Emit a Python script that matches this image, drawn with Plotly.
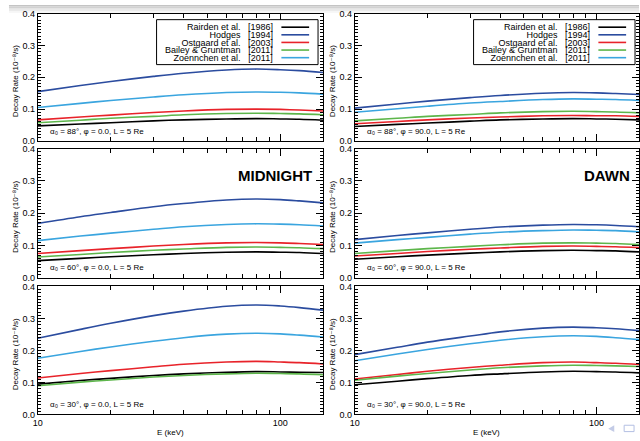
import plotly.graph_objects as go

# Energy grid (keV)
energy = [10, 15, 20, 30, 40, 60, 80, 100, 120, 150]

# Decay rates (1e-8 / s) per panel, per model
# Panel A: alpha0 = 88 deg, phi = 0.0
a_rairden = [0.047, 0.053, 0.057, 0.063, 0.066, 0.069, 0.070, 0.069, 0.068, 0.065]
a_hodges = [0.155, 0.174, 0.187, 0.203, 0.213, 0.223, 0.226, 0.224, 0.221, 0.215]
a_ostgaard = [0.066, 0.075, 0.081, 0.089, 0.094, 0.099, 0.100, 0.099, 0.097, 0.094]
a_bailey = [0.057, 0.065, 0.071, 0.077, 0.082, 0.086, 0.087, 0.086, 0.085, 0.082]
a_zoennchen = [0.105, 0.118, 0.127, 0.138, 0.145, 0.152, 0.154, 0.153, 0.151, 0.147]

# Panel B: alpha0 = 88 deg, phi = 90.0
b_rairden = [0.045, 0.052, 0.056, 0.062, 0.066, 0.069, 0.070, 0.069, 0.068, 0.066]
b_hodges = [0.103, 0.116, 0.125, 0.136, 0.143, 0.150, 0.152, 0.151, 0.149, 0.146]
b_ostgaard = [0.054, 0.061, 0.066, 0.072, 0.075, 0.079, 0.080, 0.079, 0.079, 0.077]
b_bailey = [0.063, 0.071, 0.077, 0.083, 0.088, 0.092, 0.093, 0.092, 0.091, 0.088]
b_zoennchen = [0.090, 0.101, 0.109, 0.119, 0.124, 0.130, 0.132, 0.131, 0.130, 0.127]

# Panel C: alpha0 = 60 deg, phi = 0.0
c_rairden = [0.053, 0.060, 0.065, 0.071, 0.075, 0.079, 0.080, 0.079, 0.078, 0.075]
c_hodges = [0.168, 0.189, 0.202, 0.220, 0.230, 0.241, 0.244, 0.242, 0.238, 0.232]
c_ostgaard = [0.075, 0.084, 0.090, 0.098, 0.103, 0.108, 0.109, 0.108, 0.106, 0.103]
c_bailey = [0.064, 0.072, 0.078, 0.085, 0.089, 0.094, 0.095, 0.094, 0.093, 0.090]
c_zoennchen = [0.115, 0.129, 0.138, 0.150, 0.158, 0.165, 0.167, 0.166, 0.164, 0.160]

# Panel D: alpha0 = 60 deg, phi = 90.0
d_rairden = [0.057, 0.065, 0.070, 0.076, 0.080, 0.084, 0.085, 0.084, 0.083, 0.080]
d_hodges = [0.118, 0.131, 0.139, 0.150, 0.157, 0.163, 0.165, 0.164, 0.162, 0.158]
d_ostgaard = [0.067, 0.075, 0.081, 0.088, 0.092, 0.097, 0.098, 0.097, 0.096, 0.093]
d_bailey = [0.075, 0.084, 0.090, 0.097, 0.102, 0.107, 0.108, 0.107, 0.106, 0.103]
d_zoennchen = [0.107, 0.118, 0.125, 0.135, 0.141, 0.146, 0.148, 0.147, 0.146, 0.142]

# Panel E: alpha0 = 30 deg, phi = 0.0
e_rairden = [0.095, 0.106, 0.113, 0.122, 0.127, 0.132, 0.134, 0.133, 0.132, 0.131]
e_hodges = [0.238, 0.266, 0.285, 0.309, 0.323, 0.338, 0.342, 0.339, 0.334, 0.326]
e_ostgaard = [0.114, 0.128, 0.137, 0.149, 0.157, 0.164, 0.166, 0.164, 0.162, 0.158]
e_bailey = [0.090, 0.101, 0.108, 0.117, 0.122, 0.127, 0.129, 0.128, 0.127, 0.124]
e_zoennchen = [0.176, 0.197, 0.211, 0.229, 0.240, 0.251, 0.254, 0.252, 0.248, 0.242]

# Panel F: alpha0 = 30 deg, phi = 90.0
f_rairden = [0.093, 0.104, 0.112, 0.122, 0.127, 0.133, 0.135, 0.134, 0.133, 0.130]
f_hodges = [0.187, 0.210, 0.226, 0.245, 0.258, 0.270, 0.273, 0.271, 0.268, 0.262]
f_ostgaard = [0.111, 0.125, 0.135, 0.147, 0.154, 0.162, 0.164, 0.162, 0.160, 0.156]
f_bailey = [0.107, 0.120, 0.128, 0.139, 0.146, 0.152, 0.154, 0.153, 0.152, 0.150]
f_zoennchen = [0.168, 0.189, 0.203, 0.221, 0.232, 0.243, 0.246, 0.244, 0.240, 0.234]

model_names = ["Rairden et al.", "Hodges", "Ostgaard et al.", "Bailey & Gruntman", "Zoennchen et al."]
model_years = ["1986", "1994", "2003", "2011", "2011"]
model_colors = ["#000000", "#2b4c9f", "#e8232a", "#5db64b", "#3aa5df"]

panel_alpha = ["88", "88", "60", "60", "30", "30"]
panel_phi = ["0.0", "90.0", "0.0", "90.0", "0.0", "90.0"]

y_ticks = [0.0, 0.1, 0.2, 0.3, 0.4]
y_tick_text = ["0.0", "0.1", "0.2", "0.3", "0.4"]
x_ticks = [10, 100]
x_tick_text = ["10", "100"]
x_minor = [20, 30, 40, 50, 60, 70, 80, 90]
y_minor = [i / 100 for i in range(0, 41)]

panels = [
    [a_rairden, a_hodges, a_ostgaard, a_bailey, a_zoennchen],
    [b_rairden, b_hodges, b_ostgaard, b_bailey, b_zoennchen],
    [c_rairden, c_hodges, c_ostgaard, c_bailey, c_zoennchen],
    [d_rairden, d_hodges, d_ostgaard, d_bailey, d_zoennchen],
    [e_rairden, e_hodges, e_ostgaard, e_bailey, e_zoennchen],
    [f_rairden, f_hodges, f_ostgaard, f_bailey, f_zoennchen],
]

W, H = 640, 441
FONT = "Liberation Sans, Arial, DejaVu Sans, sans-serif"


def px(x):
    return x / W


def py(y):
    return 1 - y / H


# Pixel boxes of the panels
col_x = [(33, 321), (353, 640)]
row_y = [(9, 139), (147, 279), (288, 419)]

fig = go.Figure()
layout = dict(
    width=W, height=H, margin=dict(l=0, r=0, t=0, b=0),
    paper_bgcolor="white", plot_bgcolor="white", showlegend=False,
    font=dict(family=FONT, size=9, color="black"),
)
annotations = []
shapes = []

for k in range(6):
    r, c = divmod(k, 2)
    idx = "" if k == 0 else str(k + 1)
    xa, ya = "xaxis" + idx, "yaxis" + idx
    xref, yref = "x" + idx, "y" + idx
    x0, x1 = col_x[c]
    y0, y1 = row_y[r]
    bottom = r == 2
    layout[xa] = dict(
        domain=[px(x0), px(x1)], anchor=yref, type="log", range=[1, 2.176],
        showline=True, linecolor="black", linewidth=1, mirror="allticks",
        ticks="inside", ticklen=7, tickcolor="black", tickwidth=1,
        tickvals=x_ticks, ticktext=x_tick_text,
        showticklabels=bottom, tickfont=dict(size=9, family=FONT),
        minor=dict(tickvals=x_minor, ticks="inside", ticklen=4, tickcolor="black"),
        showgrid=False, zeroline=False,
    )
    layout[ya] = dict(
        domain=[py(y1), py(y0)], anchor=xref, range=[0, 0.4],
        showline=True, linecolor="black", linewidth=1, mirror="allticks",
        ticks="inside", ticklen=7, tickcolor="black", tickwidth=1,
        tickvals=y_ticks, ticktext=y_tick_text, tickfont=dict(size=9, family=FONT),
        minor=dict(tickvals=y_minor, ticks="inside", ticklen=3, tickcolor="black"),
        showgrid=False, zeroline=False,
    )
    for m in range(5):
        fig.add_trace(go.Scatter(
            x=energy, y=panels[k][m], mode="lines", line_shape="spline",
            line=dict(color=model_colors[m], width=1.6),
            xaxis=xref, yaxis=yref, name=model_names[m], hoverinfo="skip",
        ))
    # parameter label
    annotations.append(dict(
        x=px(x0 + 10), y=py(y1 - 10), xref="paper", yref="paper",
        xanchor="left", yanchor="middle", showarrow=False,
        text="α₀ = %s°, φ = %s, L = 5 Re" % (panel_alpha[k], panel_phi[k]),
        font=dict(size=8, family=FONT),
    ))
    # y axis title
    annotations.append(dict(
        x=px(x0 - 23), y=py((y0 + y1) / 2 + 4), xref="paper", yref="paper",
        xanchor="center", yanchor="middle", showarrow=False, textangle=-90,
        text="Decay Rate (10⁻⁸/s)", font=dict(size=8, family=FONT),
    ))
    if bottom:
        annotations.append(dict(
            x=px((x0 + x1) / 2 - 10), y=py(437), xref="paper", yref="paper",
            xanchor="center", yanchor="middle", showarrow=False,
            text="E (keV)", font=dict(size=8, family=FONT),
        ))

# Legends in the top panels: one block of names, one of years (tight line pitch)
row_pitch_font = 6  # line spacing = 1.3 * this size
name_block = "<br>".join('<span style="font-size:9px">%s</span>' % n for n in model_names)
year_block = "<br>".join('<span style="font-size:9px">[%s]</span>' % y for y in model_years)
for c in range(2):
    off = 0 if c == 0 else 320
    bx0, bx1, by0, by1 = 153 + off, 316 + off, 15, 61
    shapes.append(dict(type="rect", xref="paper", yref="paper",
                       x0=px(bx0), x1=px(bx1), y0=py(by1), y1=py(by0),
                       line=dict(color="black", width=1), fillcolor="white", layer="above"))
    annotations.append(dict(
        x=px(240 + off), y=py(38.5), xref="paper", yref="paper",
        xanchor="right", yanchor="middle", align="right", showarrow=False,
        text=name_block, font=dict(size=row_pitch_font, family=FONT)))
    annotations.append(dict(
        x=px(258 + off), y=py(38.5), xref="paper", yref="paper",
        xanchor="center", yanchor="middle", align="center", showarrow=False,
        text=year_block, font=dict(size=row_pitch_font, family=FONT)))
    for m in range(5):
        yy = 22.7 + m * 7.8
        shapes.append(dict(type="line", xref="paper", yref="paper",
                           x0=px(279 + off), x1=px(307 + off), y0=py(yy), y1=py(yy),
                           line=dict(color=model_colors[m], width=1.6), layer="above"))

# Sector labels
annotations.append(dict(x=px(312), y=py(174), xref="paper", yref="paper",
                        xanchor="right", yanchor="middle", showarrow=False,
                        text="<b>MIDNIGHT</b>", font=dict(size=15, family=FONT)))
annotations.append(dict(x=px(633), y=py(174), xref="paper", yref="paper",
                        xanchor="right", yanchor="middle", showarrow=False,
                        text="<b>DAWN</b>", font=dict(size=15, family=FONT)))

# Soft shadow strip along the top edge
for i, g in enumerate(["#c4c4c4", "#d2d2d2", "#dfdfdf", "#eaeaea", "#f4f4f4"]):
    shapes.append(dict(type="rect", xref="paper", yref="paper",
                       x0=px(4), x1=1, y0=py(1.6 * (i + 1)), y1=py(1.6 * i),
                       line=dict(width=0), fillcolor=g, layer="below"))

# Slide navigation glyphs
shapes.append(dict(type="path", xref="paper", yref="paper",
                   path="M %f %f L %f %f L %f %f Z" % (px(609), py(433.5), px(615), py(430), px(615), py(437)),
                   line=dict(width=0), fillcolor="#c3cbe6", layer="above"))
shapes.append(dict(type="rect", xref="paper", yref="paper",
                   x0=px(625), x1=px(635), y0=py(436.5), y1=py(430),
                   line=dict(color="#b3bfe3", width=1), fillcolor="rgba(0,0,0,0)", layer="above"))

layout["annotations"] = annotations
layout["shapes"] = shapes
fig.update_layout(**layout)
fig.write_html("out.html")
